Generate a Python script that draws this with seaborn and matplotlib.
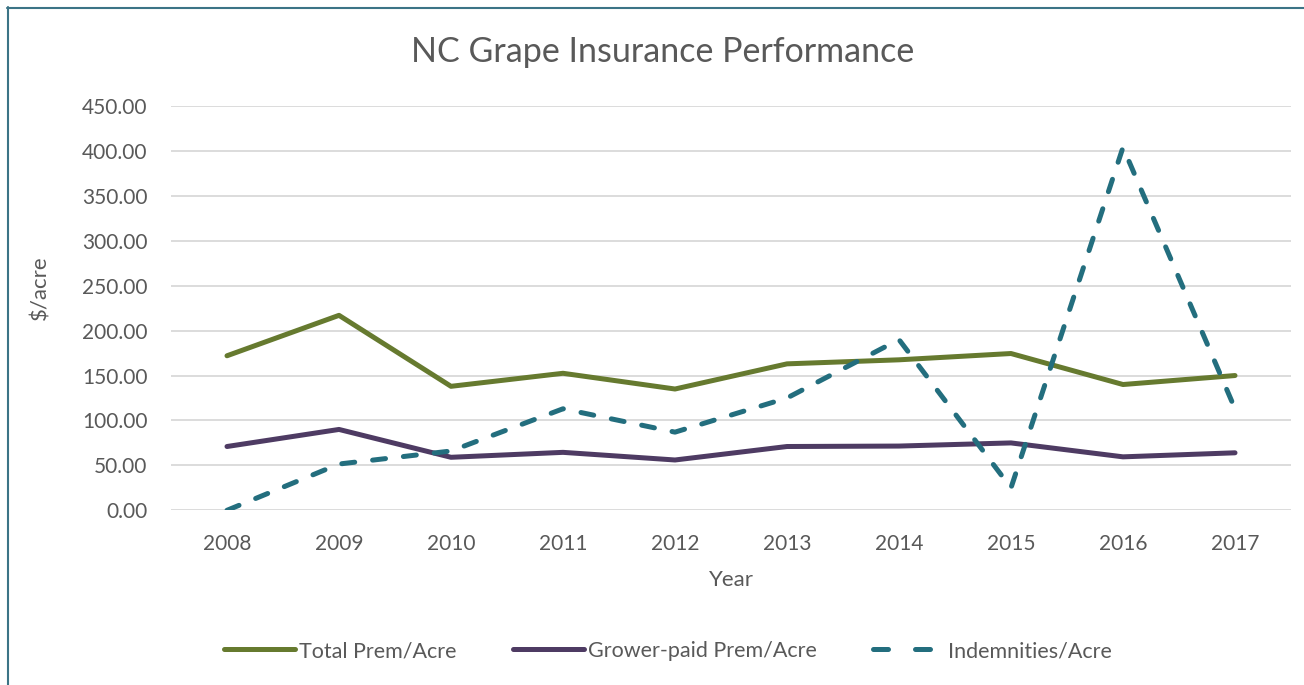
import matplotlib
matplotlib.use("Agg")
import matplotlib.pyplot as plt
import seaborn as sns
import pandas as pd
from matplotlib.lines import Line2D

years = [2008, 2009, 2010, 2011, 2012, 2013, 2014, 2015, 2016, 2017]
total_prem = [172, 217, 138, 152.5, 135, 163, 167.5, 174.5, 140, 150]
grower_prem = [71, 90, 59, 64.5, 56, 71, 71.5, 75, 59.5, 64]
indemnities = [0, 51.5, 66, 113, 87, 125, 190, 25, 404, 113]
series_names = ["Total Prem/Acre", "Grower-paid Prem/Acre", "Indemnities/Acre"]
y_ticks = [0, 50, 100, 150, 200, 250, 300, 350, 400, 450]

colors = ["#667A2F", "#4E3B63", "#236E7E"]
text_color = "#595959"

sns.set_theme(style="white")
plt.rcParams["font.family"] = ["Lato", "DejaVu Sans"]

fig = plt.figure(figsize=(13.04, 6.85), dpi=100)
ax = fig.add_axes([171 / 1304, 1 - 510.3 / 685, (1291 - 171) / 1304, (510.3 - 106) / 685])

df = pd.DataFrame({"Year": years, series_names[0]: total_prem,
                   series_names[1]: grower_prem, series_names[2]: indemnities})

lw = 3.6
for i, name in enumerate(series_names):
    sns.lineplot(data=df, x="Year", y=name, ax=ax, color=colors[i], linewidth=lw,
                 legend=False)
lines = ax.get_lines()
for ln in lines:
    ln.set_solid_capstyle("round")
    ln.set_solid_joinstyle("round")
    ln.set_dash_capstyle("round")
lines[2].set_dashes((2.6, 3.6))

ax.set_xlim(2007.5, 2017.5)
ax.set_ylim(0, 450)
ax.set_xticks(years)
ax.set_xticklabels([str(y) for y in years])
ax.set_yticks(y_ticks)
ax.set_yticklabels([f"{v:.2f}" for v in y_ticks])
ax.tick_params(axis="both", length=0, labelsize=15, labelcolor=text_color)
ax.tick_params(axis="y", pad=17)
ax.tick_params(axis="x", pad=17)
ax.grid(axis="y", color="#D9D9D9", linewidth=1.3)
ax.grid(axis="x", visible=False)
for s in ax.spines.values():
    s.set_visible(False)
ax.set_axisbelow(True)

ax.set_xlabel("Year", fontsize=16, color=text_color)
ax.xaxis.set_label_coords(0.5, -(580 - 510.3) / 404.3)
ax.xaxis.label.set_va("center")
ax.set_ylabel("$/acre", fontsize=16, color=text_color)
ax.yaxis.set_label_coords((40 - 171) / 1120, (510.3 - 288) / 404.3)
ax.yaxis.label.set_va("center")

fig.text(663 / 1304, 1 - 52 / 685, "NC Grape Insurance Performance", ha="center", va="center",
         fontsize=24.5, color=text_color)

handles = []
for i, name in enumerate(series_names):
    h = Line2D([], [], color=colors[i], linewidth=lw, solid_capstyle="round",
               dash_capstyle="round")
    if i == 2:
        h.set_dashes((3.0, 5.4))
    handles.append(h)
fig.legend(handles, series_names, loc="center", bbox_to_anchor=(668 / 1304, 1 - 651 / 685),
           ncol=3, frameon=False, fontsize=15.5, labelcolor=text_color,
           handlelength=3.3, handletextpad=0.2, columnspacing=2.6)

# outer chart border (top and left visible)
fig.add_artist(Line2D([7 / 1304, 1.01], [1 - 7.5 / 685, 1 - 7.5 / 685], transform=fig.transFigure,
                      color="#3C7486", linewidth=1.5))
fig.add_artist(Line2D([7.5 / 1304, 7.5 / 1304], [-0.01, 1 - 7 / 685], transform=fig.transFigure,
                      color="#3C7486", linewidth=1.5))

fig.savefig("out.png", dpi=100, facecolor="white")
